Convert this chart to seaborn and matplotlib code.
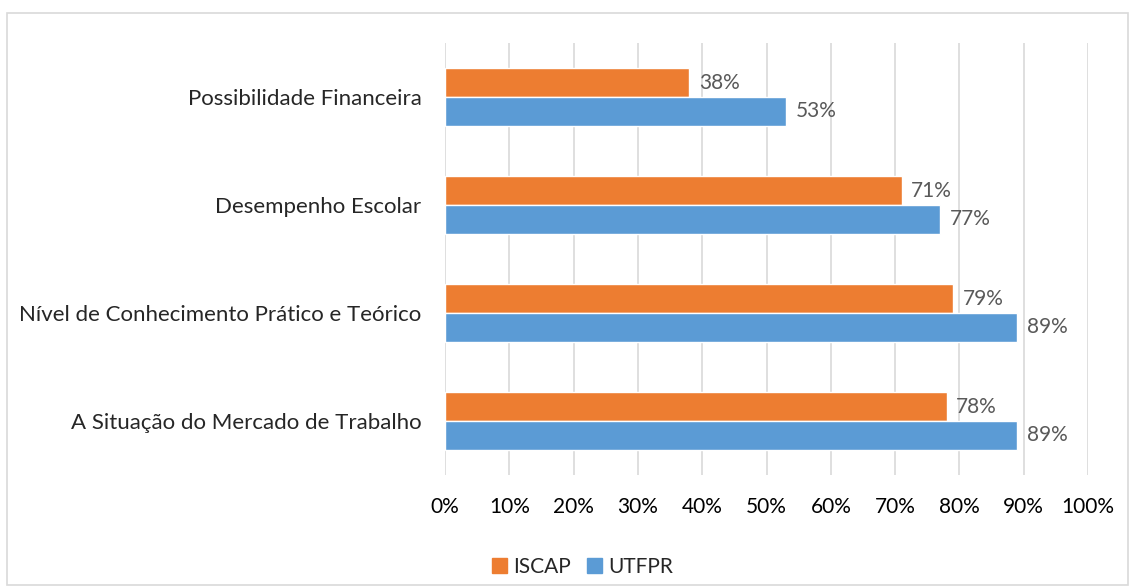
import pandas as pd
import seaborn as sns
import matplotlib.pyplot as plt
from matplotlib.patches import Rectangle

categories = [
    "Possibilidade Financeira",
    "Desempenho Escolar",
    "Nível de Conhecimento Prático e Teórico",
    "A Situação do Mercado de Trabalho",
]
iscap = [38, 71, 79, 78]
utfpr = [53, 77, 89, 89]
groups = ["ISCAP", "UTFPR"]
colors = ["#ED7D31", "#5B9BD5"]
x_ticks = list(range(0, 101, 10))

df = pd.DataFrame({
    "categoria": categories * 2,
    "grupo": ["ISCAP"] * len(categories) + ["UTFPR"] * len(categories),
    "valor": iscap + utfpr,
})

sns.set_style("white")
plt.rcParams["font.family"] = ["Lato", "DejaVu Sans"]
FS = 15

fig = plt.figure(figsize=(11.31, 5.87), dpi=100)
ax = fig.add_axes([0.3935, 0.1908, 0.5685, 0.7359])

sns.barplot(data=df, y="categoria", x="valor", hue="grupo", order=categories,
            hue_order=groups, palette=colors, width=0.53, orient="h",
            saturation=1, ax=ax, legend=False)

for cont in ax.containers:
    ax.bar_label(cont, fmt="%d%%", padding=7, color="#595959", fontsize=FS)

ax.set_xlim(0, 100)
ax.set_ylim(len(categories) - 0.5, -0.5)
ax.set_xticks(x_ticks)
ax.set_xticklabels([f"{t}%" for t in x_ticks], fontsize=FS, color="#000000")
ax.tick_params(axis="y", labelsize=16, length=0, pad=17)
ax.tick_params(axis="x", length=0, pad=16)
ax.set_xlabel("")
ax.set_ylabel("")
ax.xaxis.grid(True, color="#D9D9D9", linewidth=1.2)
ax.set_axisbelow(True)
for s in ax.spines.values():
    s.set_visible(False)

handles = [Rectangle((0, 0), 1, 1, color=c) for c in colors]
fig.legend(handles, groups, loc="center", bbox_to_anchor=(0.515, 0.034), ncol=2,
           frameon=False, fontsize=FS, handlelength=0.7, handleheight=0.7,
           handletextpad=0.3, columnspacing=0.8)

fig.patches.append(Rectangle((7 / 1131, 2 / 587), 1121 / 1131, 572 / 587,
                             transform=fig.transFigure, fill=False,
                             edgecolor="#D9D9D9", linewidth=1.2))

fig.savefig("out.png", dpi=100)
